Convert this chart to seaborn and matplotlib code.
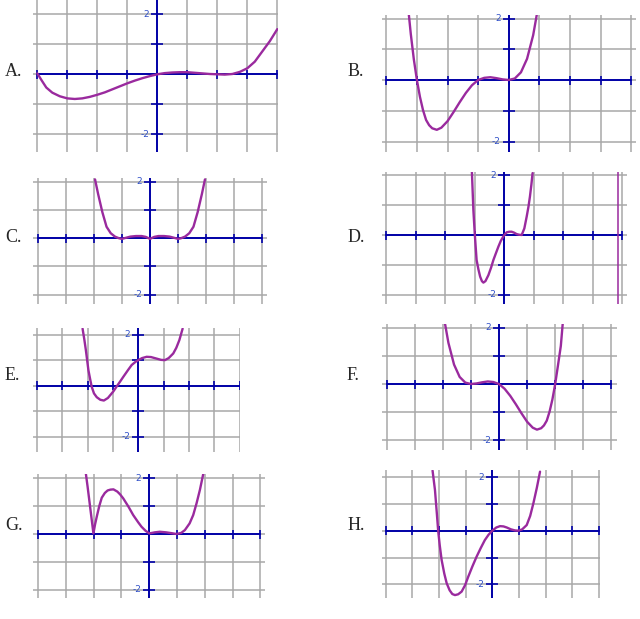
import numpy as np
import pandas as pd
import seaborn as sns
import matplotlib.pyplot as plt

# curve readings (x, y in graph units) for each answer choice
xa = [-4, -3.85, -3.7, -3.5, -3.25, -3, -2.75, -2.5, -2.25, -2, -1.75, -1.5, -1.25, -1, -0.75, -0.5, -0.25,
      0, 0.25, 0.5, 0.75, 1, 1.25, 1.5, 1.75, 2, 2.25, 2.5, 2.75, 3, 3.25, 3.5, 3.75, 4]
ya = [0.03, -0.21, -0.44, -0.61, -0.73, -0.8, -0.82, -0.8, -0.75, -0.68, -0.6, -0.5, -0.4, -0.3, -0.21, -0.13, -0.06,
      0, 0.04, 0.06, 0.07, 0.07, 0.05, 0.03, 0.01, 0, -0.01, 0.01, 0.08, 0.2, 0.42, 0.76, 1.1, 1.5]

xb = [-3.28, -3.2, -3.1, -3.0, -2.9, -2.8, -2.7, -2.6, -2.5, -2.35, -2.2, -2.0, -1.8, -1.6, -1.4, -1.2, -1.0,
      -0.8, -0.6, -0.4, -0.2, 0, 0.2, 0.4, 0.6, 0.8, 0.93]
yb = [2.29, 1.5, 0.67, 0, -0.55, -0.98, -1.3, -1.47, -1.57, -1.62, -1.55, -1.34, -1.04, -0.72, -0.42, -0.17, 0,
      0.07, 0.09, 0.06, 0.02, 0, 0.05, 0.25, 0.69, 1.46, 2.19]

xc = [-1.96, -1.85, -1.7, -1.55, -1.4, -1.25, -1.1, -1.0, -0.85, -0.7, -0.5, -0.3, -0.15, 0,
      0.15, 0.3, 0.5, 0.7, 0.85, 1.0, 1.1, 1.25, 1.4, 1.55, 1.7, 1.85, 1.96]
yc = [2.09, 1.57, 0.93, 0.41, 0.18, 0.06, 0.0, -0.02, 0.02, 0.06, 0.08, 0.08, 0.05, -0.02,
      0.05, 0.08, 0.08, 0.06, 0.02, -0.02, 0.0, 0.06, 0.18, 0.41, 0.93, 1.57, 2.09]

xd = [-1.1, -1.05, -1.0, -0.94, -0.88, -0.82, -0.76, -0.71, -0.64, -0.54, -0.45, -0.37, -0.28, -0.2, -0.12,
      -0.05, 0.0, 0.08, 0.17, 0.25, 0.33, 0.42, 0.5, 0.59, 0.68, 0.76, 0.82, 0.87, 0.92, 0.96]
yd = [2.13, 0.84, 0.0, -0.84, -1.15, -1.40, -1.55, -1.6, -1.55, -1.35, -1.1, -0.84, -0.6, -0.39, -0.2,
      -0.08, 0.0, 0.09, 0.11, 0.11, 0.08, 0.03, 0.01, 0.0, 0.22, 0.62, 0.95, 1.29, 1.7, 2.08]
d_vertical = 3.87

xe = [-2.2, -2.13, -2.07, -1.97, -1.9, -1.84, -1.75, -1.64, -1.5, -1.36, -1.2, -0.99, -0.86, -0.72, -0.59,
      -0.4, -0.26, -0.1, 0, 0.15, 0.33, 0.5, 0.72, 0.9, 1.05, 1.2, 1.38, 1.5, 1.62, 1.75]
ye = [2.23, 1.8, 1.39, 0.61, 0.25, -0.04, -0.3, -0.45, -0.55, -0.58, -0.48, -0.23, -0.04, 0.16, 0.35,
      0.62, 0.81, 0.94, 1.0, 1.08, 1.13, 1.12, 1.06, 1.01, 1.0, 1.08, 1.26, 1.48, 1.78, 2.23]

xf = [-1.93, -1.8, -1.6, -1.4, -1.2, -1.0, -0.8, -0.6, -0.4, -0.2, 0, 0.2, 0.4, 0.6, 0.8, 1.0, 1.2,
      1.35, 1.5, 1.6, 1.7, 1.8, 1.9, 2.0, 2.1, 2.2, 2.28]
yf = [2.19, 1.46, 0.69, 0.25, 0.05, 0, 0.02, 0.06, 0.09, 0.07, 0, -0.17, -0.42, -0.72, -1.04, -1.34, -1.55,
      -1.62, -1.57, -1.47, -1.3, -0.98, -0.55, 0, 0.67, 1.35, 2.29]

xg = [-2.28, -2.22, -2.16, -2.07, -2.01, -1.95, -1.89, -1.8, -1.71, -1.6, -1.5, -1.4, -1.29, -1.15, -1.05,
      -0.94, -0.75, -0.58, -0.4, -0.28, -0.14, 0, 0.2, 0.38, 0.6, 0.8, 0.98, 1.15, 1.28, 1.45, 1.58, 1.7, 1.82, 1.94]
yg = [2.15, 1.7, 1.22, 0.5, 0.02, 0.35, 0.62, 1.0, 1.3, 1.47, 1.56, 1.59, 1.6, 1.52, 1.42,
      1.28, 0.98, 0.68, 0.42, 0.26, 0.12, 0.02, 0.06, 0.08, 0.06, 0.03, 0.0, 0.04, 0.14, 0.38, 0.68, 1.1, 1.58, 2.15]

xh = [-2.24, -2.15, -2.08, -2.03, -1.97, -1.9, -1.8, -1.71, -1.6, -1.5, -1.4, -1.28, -1.15, -1.02, -0.9,
      -0.75, -0.59, -0.43, -0.28, -0.14, 0, 0.15, 0.29, 0.42, 0.54, 0.7, 0.85, 0.98, 1.12, 1.29, 1.42, 1.54, 1.67, 1.79]
yh = [2.24, 1.52, 0.65, 0.0, -0.55, -1.09, -1.6, -1.96, -2.22, -2.36, -2.4, -2.37, -2.27, -2.03, -1.71,
      -1.34, -0.97, -0.64, -0.35, -0.15, 0.0, 0.12, 0.17, 0.16, 0.12, 0.05, 0.01, 0.0, 0.05, 0.21, 0.55, 1.02, 1.6, 2.2]

labels = ["A.", "B.", "C.", "D.", "E.", "F.", "G.", "H."]
x_grid = list(range(-4, 5))
y_grid = list(range(-2, 3))
y_ticklabels = {2: "2", -2: "-2"}

# pixel layout of each small graph: origin, unit size, frame, label baseline
W, H = 640, 619
layout = [
    dict(x0=157.3, y0=74.3, ux=30.0, uy=30.1, L=33.3, R=278.3, T=0.0, B=151.7, lx=5, ly=76),
    dict(x0=508.7, y0=80.0, ux=30.6, uy=30.75, L=381.7, R=636.0, T=15.0, B=151.7, lx=348, ly=76.5),
    dict(x0=150.0, y0=238.3, ux=28.04, uy=28.17, L=33.3, R=266.7, T=178.3, B=304.0, lx=5, ly=241.5),
    dict(x0=504.3, y0=235.0, ux=29.46, uy=29.75, L=381.7, R=626.7, T=171.7, B=304.0, lx=348, ly=241.5),
    dict(x0=138.3, y0=385.7, ux=25.33, uy=25.58, L=33.3, R=240.0, T=328.3, B=451.7, lx=5, ly=380),
    dict(x0=499.0, y0=384.0, ux=28.1, uy=28.17, L=381.7, R=616.7, T=324.0, B=450.0, lx=347, ly=380),
    dict(x0=149.3, y0=534.0, ux=27.8, uy=27.9, L=33.3, R=265.0, T=474.0, B=598.3, lx=5, ly=530.5),
    dict(x0=492.3, y0=530.7, ux=26.67, uy=26.83, L=381.7, R=600.0, T=470.0, B=598.3, lx=348, ly=530.5),
]
curves = [(xa, ya), (xb, yb), (xc, yc), (xd, yd), (xe, ye), (xf, yf), (xg, yg), (xh, yh)]

GRAY = "#a8a8a8"
BLUE = "#0000a8"
LABEL_BLUE = "#2f4fc8"
PURPLE = "#9a2a9e"

sns.set_style("white")
fig = plt.figure(figsize=(W / 100, H / 100), dpi=100)

for name, (xs, ys), g in zip(labels, curves, layout):
    ax = fig.add_axes([g["L"] / W, 1 - g["B"] / H, (g["R"] - g["L"]) / W, (g["B"] - g["T"]) / H])
    ax.set_axis_off()

    for v in x_grid:
        ax.axvline(v, color=GRAY, lw=1.1, zorder=1)
    for h in y_grid:
        ax.axhline(h, color=GRAY, lw=1.1, zorder=1)

    # blue axes with little cross ticks
    ax.plot([x_grid[0], x_grid[-1]], [0, 0], color=BLUE, lw=1.4, zorder=2)
    ax.axvline(0, color=BLUE, lw=1.4, zorder=2)
    ax.vlines(x_grid, -4.5 / g["uy"], 4.5 / g["uy"], color=BLUE, lw=1.2, zorder=2)
    ax.hlines([v for v in y_grid if v != 0], -6 / g["ux"], 6 / g["ux"], color=BLUE, lw=1.2, zorder=2)
    for v, t in y_ticklabels.items():
        ax.text(-8 / g["ux"], v, t, ha="right", va="center", fontsize=6.5,
                color=LABEL_BLUE, family="DejaVu Sans", zorder=3)

    df = pd.DataFrame({"x": xs, "y": ys})
    sns.lineplot(data=df, x="x", y="y", ax=ax, color=PURPLE, lw=1.7, sort=False, zorder=5)
    if name == "D.":
        ax.axvline(d_vertical, color=PURPLE, lw=1.1, zorder=5)

    ax.set_xlim((g["L"] - g["x0"]) / g["ux"], (g["R"] - g["x0"]) / g["ux"])
    ax.set_ylim((g["y0"] - g["B"]) / g["uy"], (g["y0"] - g["T"]) / g["uy"])

    fig.text(g["lx"] / W, 1 - g["ly"] / H, name, ha="left", va="baseline",
             fontsize=13, family="Liberation Serif")

fig.savefig("out.png", dpi=100)
